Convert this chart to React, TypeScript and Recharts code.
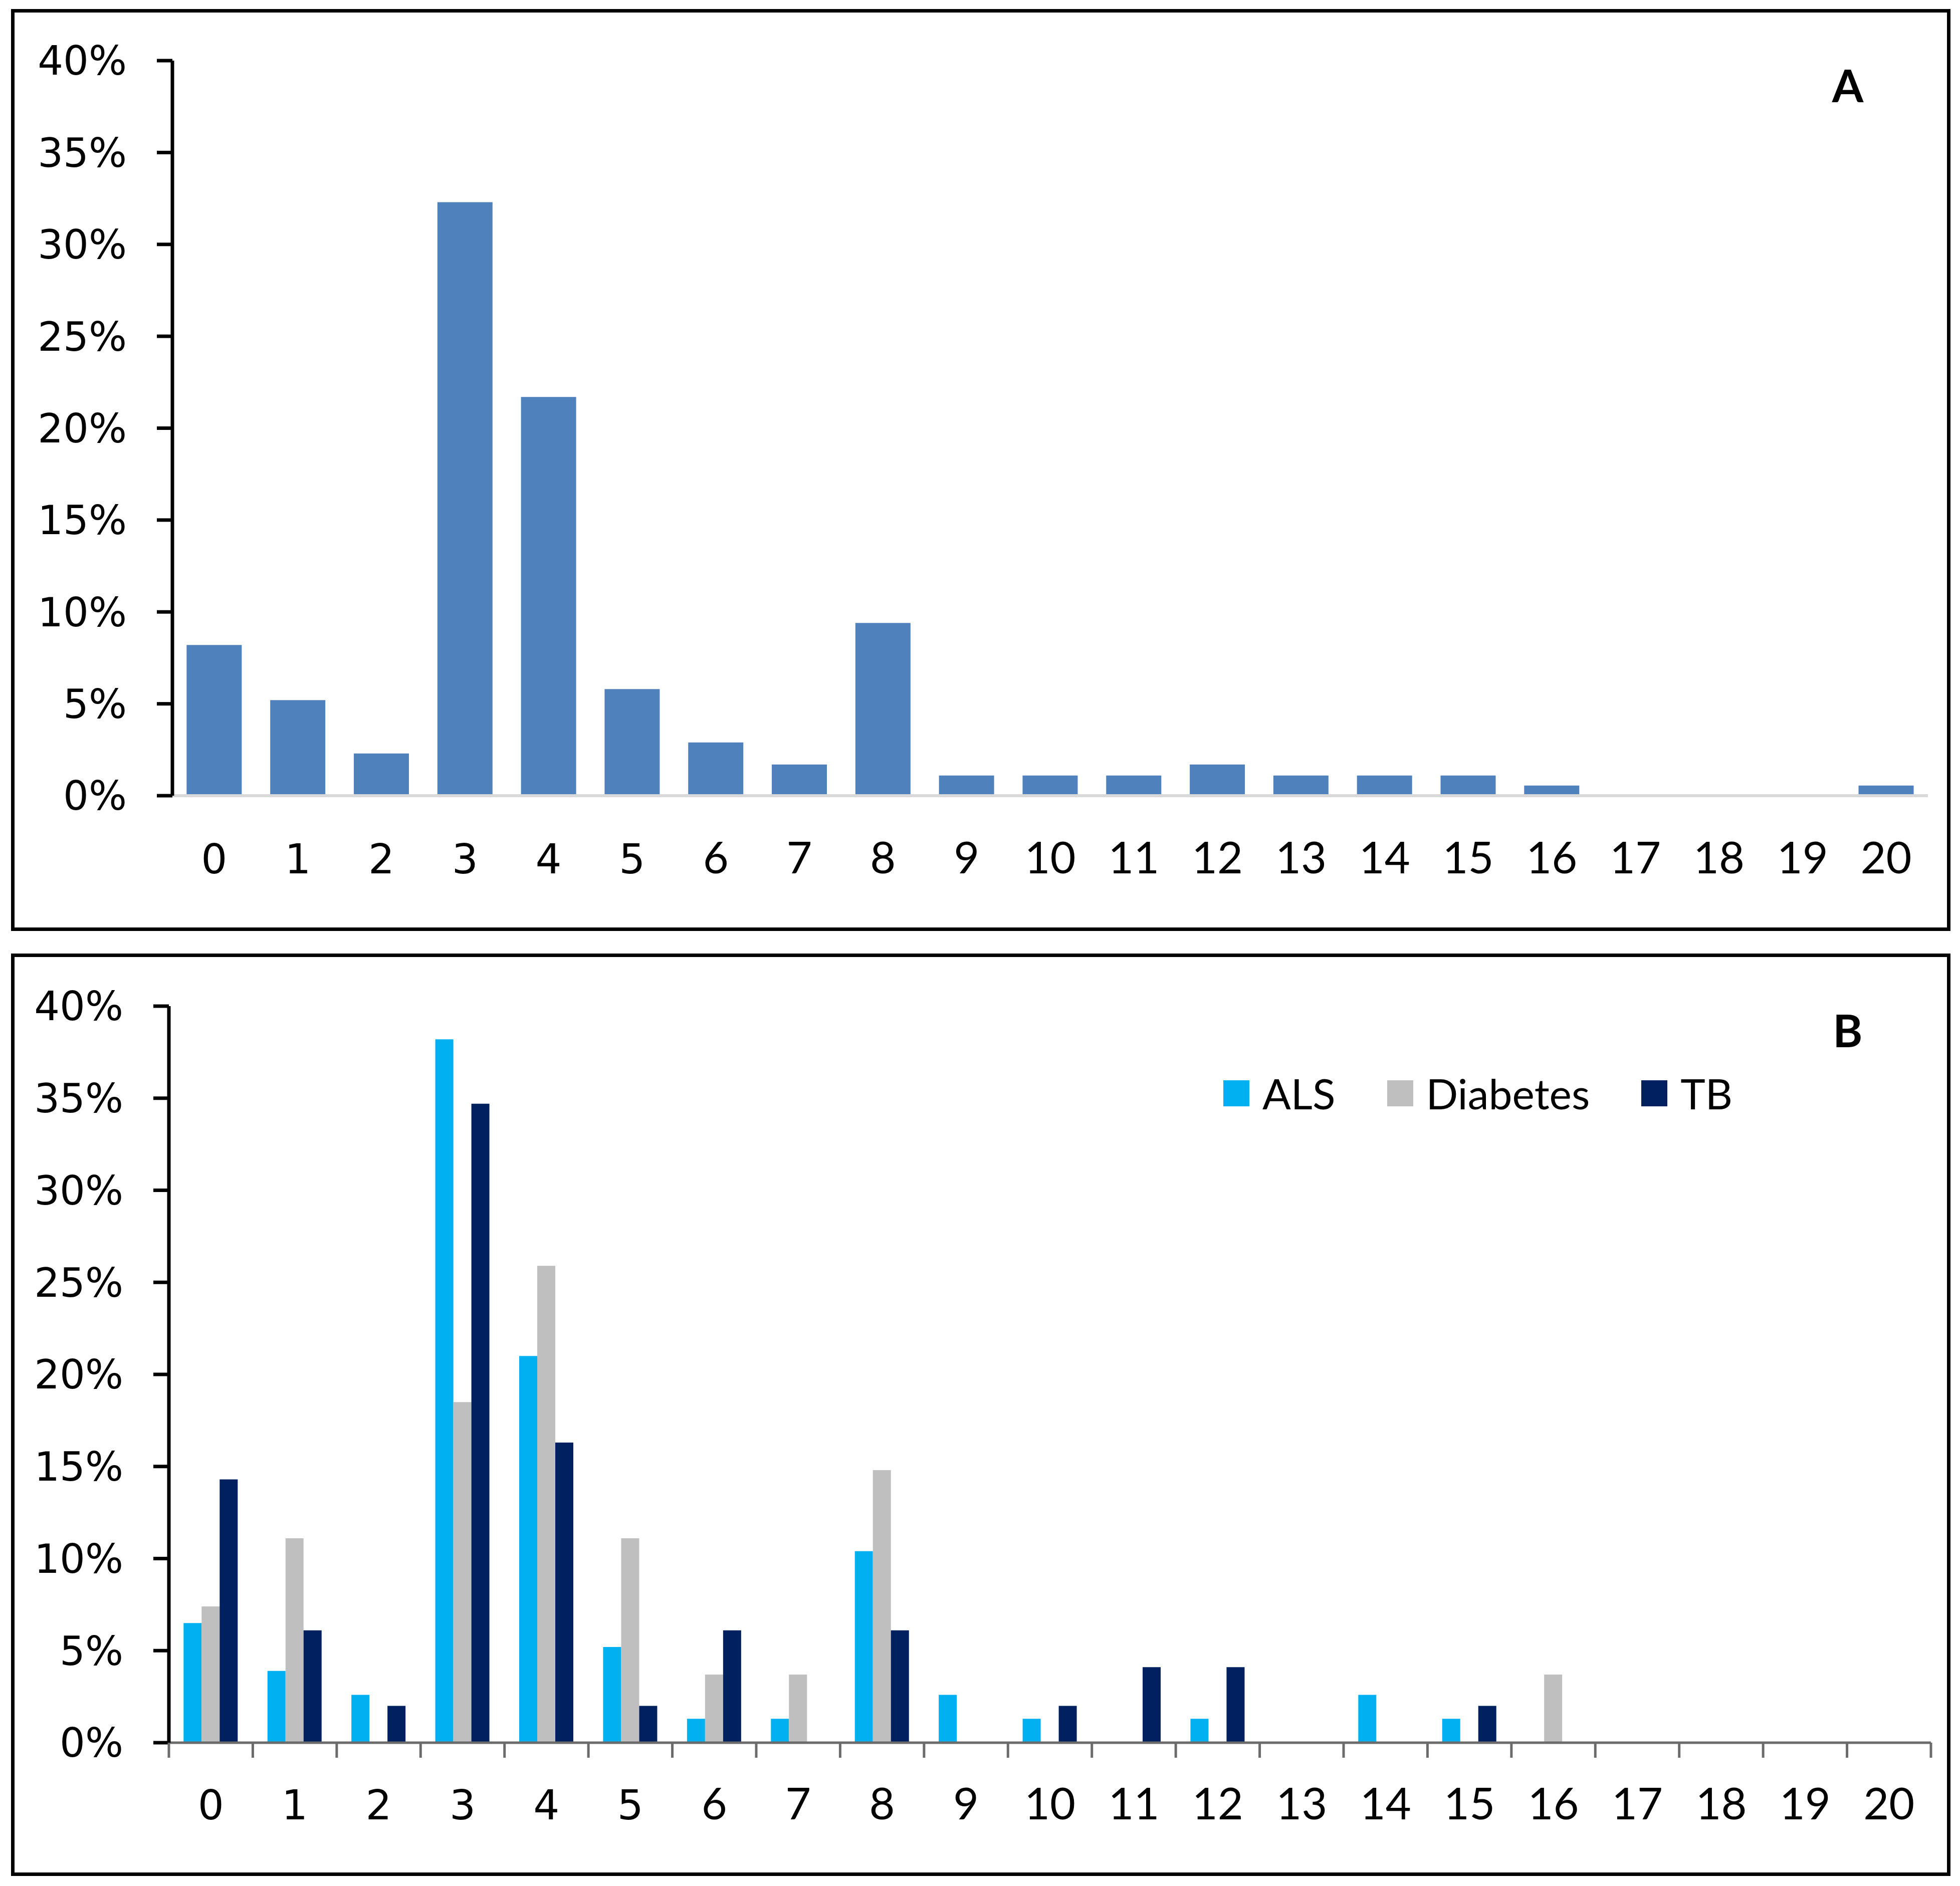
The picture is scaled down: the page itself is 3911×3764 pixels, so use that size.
import React from 'react';
import { BarChart, Bar, XAxis, YAxis, Legend } from 'recharts';

// number of items (0..20) on the x axis
const categories = ['0', '1', '2', '3', '4', '5', '6', '7', '8', '9', '10', '11', '12', '13', '14', '15', '16', '17', '18', '19', '20'];

// panel A: all samples, % per category
const overall = [8.2, 5.2, 2.3, 32.3, 21.7, 5.8, 2.9, 1.7, 9.4, 1.1, 1.1, 1.1, 1.7, 1.1, 1.1, 1.1, 0.55, 0, 0, 0, 0.55];

// panel B: split by disease
const als = [6.5, 3.9, 2.6, 38.2, 21.0, 5.2, 1.3, 1.3, 10.4, 2.6, 1.3, 0, 1.3, 0, 2.6, 1.3, 0, 0, 0, 0, 0];
const diabetes = [7.4, 11.1, 0, 18.5, 25.9, 11.1, 3.7, 3.7, 14.8, 0, 0, 0, 0, 0, 0, 0, 3.7, 0, 0, 0, 0];
const tb = [14.3, 6.1, 2.0, 34.7, 16.3, 2.0, 6.1, 0, 6.1, 0, 2.0, 4.1, 4.1, 0, 0, 2.0, 0, 0, 0, 0, 0];

const yTicks = [0, 5, 10, 15, 20, 25, 30, 35, 40];

const dataA = categories.map((cat, i) => ({ cat, overall: overall[i] }));
const dataB = categories.map((cat, i) => ({ cat, ALS: als[i], Diabetes: diabetes[i], TB: tb[i] }));

const WIDE = '"DejaVu Sans", Verdana, sans-serif';
const NARROW = 'Lato, "Open Sans", sans-serif';

const CHART_W = 3911;
const B_LEFT = 337;
const B_RIGHT = 58;
const AXIS_GREY = '#6b6b6b';

// label under each category; panel B also gets Excel-style tick marks between categories
const CountTick = ({ x, y, payload, drop, edges }: any) => {
  const wide = Number(payload.value) < 6;
  const half = payload.offset > 0 ? payload.offset : (CHART_W - B_LEFT - B_RIGHT) / categories.length / 2;
  const isLast = payload.value === categories[categories.length - 1];
  return (
    <g>
      {edges && <line x1={x - half} x2={x - half} y1={y} y2={y + 30} stroke={AXIS_GREY} strokeWidth={5} />}
      {edges && isLast && <line x1={x + half} x2={x + half} y1={y} y2={y + 30} stroke={AXIS_GREY} strokeWidth={5} />}
      <text
        x={x}
        y={y + drop}
        textAnchor="middle"
        fontFamily={wide ? WIDE : NARROW}
        fontSize={wide ? 82 : 88}
        fill="#000"
      >
        {payload.value}
      </text>
    </g>
  );
};

const legendContent = ({ payload }: any) => (
  <div style={{ display: 'flex', alignItems: 'center', fontFamily: NARROW, fontSize: 84, lineHeight: '84px', color: '#000' }}>
    {(payload || []).map((p: any) => (
      <div key={p.value} style={{ display: 'flex', alignItems: 'center', marginRight: 103 }}>
        <span style={{ display: 'inline-block', width: 52, height: 52, background: p.color, marginRight: 26 }} />
        <span>{p.value}</span>
      </div>
    ))}
  </div>
);

const panelBox = (top: number, height: number): React.CSSProperties => ({
  position: 'absolute',
  left: 22,
  top,
  width: 3870,
  height,
  border: '7px solid #000',
  boxSizing: 'border-box',
});

const panelLetter = (top: number): React.CSSProperties => ({
  position: 'absolute',
  left: 3587,
  top,
  width: 200,
  textAlign: 'center',
  fontFamily: NARROW,
  fontWeight: 700,
  fontSize: 90,
  lineHeight: '90px',
  color: '#000',
});

const yAxisProps = {
  domain: [0, 40] as [number, number],
  ticks: yTicks,
  interval: 0 as const,
  tickFormatter: (v: number) => `${v}%`,
  tick: { fontFamily: WIDE, fontSize: 80, fill: '#000' },
  axisLine: { stroke: '#000', strokeWidth: 7 },
  tickLine: { stroke: '#000', strokeWidth: 7 },
  tickSize: 31,
  tickMargin: 60,
};

export default function App() {
  return (
    <div style={{ position: 'absolute', left: 0, top: 0, width: CHART_W, height: 3764, background: '#fff' }}>
      <div style={panelBox(18, 1840)} />
      <div style={panelBox(1903, 1841)} />

      <div style={{ position: 'absolute', left: 0, top: 0 }}>
        <BarChart width={CHART_W} height={1900} data={dataA} margin={{ top: 121, right: 64, bottom: 311, left: 0 }} barCategoryGap="17%">
          <XAxis
            dataKey="cat"
            height={1}
            interval={0}
            axisLine={{ stroke: '#d9d9d9', strokeWidth: 6 }}
            tickLine={false}
            tickSize={0}
            tickMargin={0}
            tick={<CountTick drop={155} />}
          />
          <YAxis width={344} {...yAxisProps} />
          <Bar dataKey="overall" fill="#4f81bd" isAnimationActive={false} />
        </BarChart>
      </div>

      <div style={{ position: 'absolute', left: 0, top: 1860 }}>
        <BarChart width={CHART_W} height={1904} data={dataB} margin={{ top: 148, right: B_RIGHT, bottom: 285, left: 0 }} barCategoryGap="17.5%" barGap={0}>
          <XAxis
            dataKey="cat"
            height={1}
            interval={0}
            axisLine={{ stroke: AXIS_GREY, strokeWidth: 5 }}
            tickLine={false}
            tickSize={0}
            tickMargin={0}
            tick={<CountTick drop={153} edges />}
          />
          <YAxis width={B_LEFT} {...yAxisProps} />
          <Legend
            layout="horizontal"
            verticalAlign="middle"
            align="center"
            content={legendContent}
            wrapperStyle={{ left: 2441, top: 280, width: 'auto', height: 'auto' }}
          />
          <Bar dataKey="ALS" name="ALS" fill="#00b0f0" isAnimationActive={false} />
          <Bar dataKey="Diabetes" name="Diabetes" fill="#bfbfbf" isAnimationActive={false} />
          <Bar dataKey="TB" name="TB" fill="#002060" isAnimationActive={false} />
        </BarChart>
      </div>

      <div style={panelLetter(124)}>A</div>
      <div style={panelLetter(2010)}>B</div>
    </div>
  );
}
